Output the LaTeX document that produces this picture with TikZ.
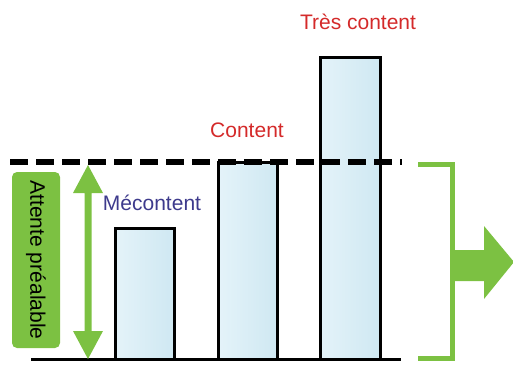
\documentclass[tikz,border=0pt]{standalone}
\usepackage{fontspec}
\setmainfont{Liberation Sans}
\definecolor{leafgreen}{HTML}{7CC142}
\definecolor{lblred}{HTML}{D42A2A}
\definecolor{lblblue}{HTML}{3D3A8C}
\definecolor{barleft}{HTML}{E4F3F9}
\definecolor{barright}{HTML}{CFE8F2}
\begin{document}
\begin{tikzpicture}[x=1pt,y=-1pt,
  bar/.style={draw=black,line width=3pt,left color=barleft,right color=barright},
  lbl/.style={font=\fontsize{21}{24}\selectfont,inner sep=0pt}]
\useasboundingbox (0,0) rectangle (513,365);

% bars
\path[bar] (115,228) rectangle (174,359);
\path[bar] (218,162) rectangle (277,359);
\path[bar] (320,57) rectangle (380,359);

% base line and expectation level
\draw[line width=3pt] (31,359) -- (401,359);
\draw[line width=6pt,dash pattern=on 18pt off 8pt] (10,162) -- (402,162);

% labels
\node[lbl,text=lblblue] (mec) at (152,203) {Mécontent};
\node[lbl,text=lblred] (cont) at (247,130) {Content};
\node[lbl,text=lblred] (tres) at (358,22) {Très content};

% expectation box
\node[fill=leafgreen,rounded corners=5pt,minimum width=48pt,minimum height=176pt,inner sep=0pt] (box) at (36,260) {};
\node[lbl,rotate=-90] (att) at (box.center) {Attente préalable};

% double arrow
\fill[leafgreen] (88,165) -- (103,193) -- (91.5,193) -- (91.5,331) -- (103,331)
  -- (88,359) -- (73,331) -- (84.5,331) -- (84.5,193) -- (73,193) -- cycle;

% bracket and outgoing arrow
\draw[leafgreen,line width=5pt] (418,164) -- (452,164) -- (452,358) -- (418,358);
\fill[leafgreen] (452,250) -- (484,250) -- (484,226) -- (514,262) -- (484,299)
  -- (484,281) -- (452,281) -- cycle;
\end{tikzpicture}
\end{document}
